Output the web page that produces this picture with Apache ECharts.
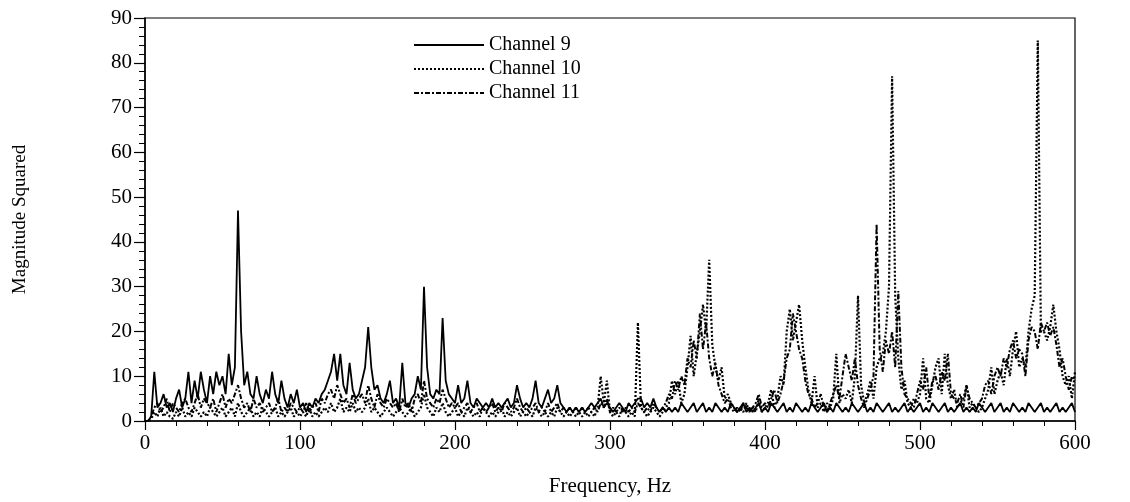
<!DOCTYPE html>
<html>
<head>
<meta charset="utf-8">
<script src="https://cdn.jsdelivr.net/npm/echarts@6/dist/echarts.min.js"></script>
<style>
  html, body { margin: 0; padding: 0; background: #fff; }
  #chart { width: 1130px; height: 502px; }
</style>
</head>
<body>
<div id="chart"></div>
<script>
// spectrum sampled every 2 Hz, 0..600 Hz
var FREQ_STEP = 2;
var seriesNames = ['Channel 9', 'Channel 10', 'Channel 11'];

var channel9 = [
  0, 0, 1, 11, 3, 4, 6, 3, 4, 2,
  5, 7, 3, 5, 11, 4, 9, 5, 11, 7,
  4, 10, 6, 11, 8, 10, 6, 15, 8, 12,
  47, 20, 8, 11, 6, 5, 10, 6, 4, 7,
  5, 11, 6, 4, 9, 5, 3, 6, 4, 7,
  3, 4, 2, 4, 3, 5, 4, 6, 7, 9,
  11, 15, 9, 15, 8, 6, 13, 7, 5, 6,
  9, 12, 21, 12, 7, 8, 5, 4, 6, 9,
  4, 5, 3, 13, 4, 3, 5, 6, 10, 7,
  30, 12, 6, 5, 7, 6, 23, 9, 6, 5,
  4, 8, 4, 5, 9, 4, 3, 5, 4, 3,
  4, 3, 5, 3, 4, 3, 4, 5, 3, 4,
  8, 5, 3, 4, 3, 5, 9, 4, 3, 5,
  7, 4, 5, 8, 4, 3, 2, 3, 2, 3,
  2, 3, 2, 3, 4, 3, 4, 5, 3, 4,
  3, 2, 3, 4, 3, 2, 4, 3, 4, 5,
  5, 3, 4, 3, 5, 3, 2, 3, 2, 3,
  2, 3, 2, 4, 3, 2, 3, 4, 2, 3,
  4, 2, 3, 2, 4, 3, 2, 3, 2, 4,
  3, 2, 3, 4, 2, 3, 2, 3, 4, 2,
  3, 2, 4, 3, 2, 3, 4, 2, 3, 2,
  4, 3, 2, 3, 2, 4, 3, 2, 3, 4,
  2, 3, 2, 4, 3, 2, 3, 2, 4, 3,
  2, 3, 4, 2, 3, 2, 4, 3, 2, 3,
  4, 2, 3, 2, 3, 4, 2, 3, 2, 3,
  4, 2, 3, 2, 4, 3, 2, 3, 4, 2,
  3, 2, 3, 4, 2, 3, 2, 3, 2, 4,
  3, 2, 3, 4, 2, 3, 4, 2, 3, 2,
  4, 3, 2, 3, 2, 4, 3, 2, 3, 4,
  2, 3, 2, 3, 4, 2, 3, 2, 3, 4,
  2
];

var channel10 = [
  0, 0, 0.5, 2, 1, 3, 1, 2, 1, 0.5,
  2, 1, 3, 1, 2, 1, 3, 2, 1, 2,
  1, 3, 2, 1, 2, 3, 1, 2, 3, 1,
  4, 2, 1, 2, 3, 1, 2, 1, 3, 2,
  1, 2, 3, 1, 2, 1, 2, 3, 1, 2,
  1, 2, 1, 3, 1, 2, 1, 2, 3, 2,
  4, 2, 3, 5, 2, 3, 2, 4, 2, 3,
  2, 3, 5, 2, 3, 2, 1, 2, 3, 2,
  1, 2, 3, 2, 1, 2, 3, 1, 2, 3,
  6, 3, 2, 1, 3, 2, 4, 2, 1, 2,
  3, 1, 2, 1, 3, 2, 1, 2, 1, 3,
  2, 1, 2, 1, 2, 3, 1, 2, 1, 2,
  3, 1, 2, 1, 2, 1, 3, 2, 1, 2,
  1, 2, 1, 3, 2, 1, 2, 1, 2, 1,
  2, 1, 2, 1, 2, 1, 3, 10, 4, 9,
  2, 1, 2, 1, 3, 2, 1, 2, 1, 22,
  3, 2, 1, 2, 3, 2, 1, 2, 3, 4,
  9, 6, 9, 4, 6, 12, 19, 10, 15, 20,
  26, 20, 36, 17, 12, 9, 12, 5, 6, 4,
  3, 2, 3, 2, 4, 2, 3, 2, 5, 2,
  3, 4, 7, 3, 5, 10, 8, 20, 25, 18,
  22, 26, 18, 12, 7, 4, 10, 3, 4, 2,
  4, 3, 5, 15, 4, 6, 5, 7, 4, 10,
  28, 8, 4, 6, 9, 5, 12, 14, 15, 20,
  30, 77, 28, 14, 7, 9, 4, 3, 5, 4,
  6, 14, 5, 4, 8, 12, 14, 6, 15, 8,
  5, 7, 3, 4, 5, 8, 3, 4, 3, 2,
  3, 5, 7, 12, 6, 9, 11, 8, 14, 10,
  16, 20, 12, 14, 12, 20, 25, 28, 85, 20,
  20, 18, 21, 26, 20, 16, 10, 8, 10, 5,
  11
];

var channel11 = [
  0, 0, 1, 3, 4, 2, 3, 5, 2, 4,
  3, 2, 4, 5, 3, 2, 4, 6, 3, 5,
  4, 3, 5, 2, 4, 6, 3, 5, 4, 6,
  8, 5, 3, 4, 2, 5, 3, 4, 2, 3,
  4, 2, 3, 5, 2, 3, 2, 4, 3, 2,
  3, 2, 4, 2, 3, 4, 2, 5, 4, 6,
  7, 5, 8, 6, 4, 5, 3, 6, 4, 5,
  6, 4, 8, 5, 3, 6, 4, 3, 5, 4,
  3, 4, 2, 5, 3, 4, 2, 5, 6, 4,
  9, 5, 4, 3, 5, 4, 7, 5, 3, 4,
  3, 4, 2, 3, 4, 2, 3, 4, 2, 3,
  2, 3, 4, 2, 3, 2, 4, 3, 2, 3,
  5, 3, 2, 3, 2, 3, 4, 2, 3, 2,
  4, 2, 3, 4, 2, 3, 2, 3, 2, 3,
  2, 3, 2, 3, 2, 3, 2, 4, 3, 5,
  2, 3, 2, 3, 2, 3, 2, 3, 2, 4,
  3, 2, 3, 2, 4, 3, 2, 3, 4, 6,
  5, 9, 7, 10, 8, 14, 12, 18, 14, 24,
  16, 22, 14, 10, 13, 8, 6, 4, 5, 3,
  2, 3, 2, 4, 3, 2, 3, 4, 6, 3,
  4, 3, 5, 7, 4, 6, 9, 14, 16, 24,
  20, 16, 14, 9, 6, 5, 3, 4, 6, 3,
  2, 4, 6, 8, 5, 10, 15, 12, 9, 14,
  8, 5, 3, 5, 7, 10, 44, 16, 11, 18,
  15, 20, 12, 29, 12, 6, 5, 4, 3, 6,
  9, 7, 12, 5, 9, 10, 7, 11, 9, 15,
  6, 5, 4, 6, 3, 8, 5, 4, 3, 4,
  5, 8, 9, 6, 10, 12, 10, 14, 12, 16,
  18, 14, 16, 15, 10, 18, 21, 20, 16, 22,
  20, 22, 19, 21, 17, 12, 14, 10, 7, 10,
  9
];

var xTicks = [0, 100, 200, 300, 400, 500, 600];
var yTicks = [0, 10, 20, 30, 40, 50, 60, 70, 80, 90];

function toPairs(vals) {
  return vals.map(function (v, i) { return [i * FREQ_STEP, v]; });
}

var serif = '"Liberation Serif", "DejaVu Serif", serif';
var chart = echarts.init(document.getElementById('chart'));

chart.setOption({
  animation: false,
  backgroundColor: '#fff',
  grid: {
    left: 145, right: 55, top: 18, bottom: 77,
    show: true, borderColor: '#000', borderWidth: 1.2
  },
  legend: {
    orient: 'vertical',
    left: 408, top: 30,
    itemWidth: 70, itemHeight: 14, itemGap: 4,
    itemStyle: { color: 'rgba(0,0,0,0)', borderWidth: 0, opacity: 0 },
    textStyle: { fontFamily: serif, fontSize: 20, color: '#000' },
    data: seriesNames
  },
  xAxis: {
    type: 'value',
    min: xTicks[0], max: xTicks[xTicks.length - 1], interval: 100,
    name: 'Frequency, Hz', nameLocation: 'middle', nameGap: 55,
    nameTextStyle: { fontFamily: serif, fontSize: 21, color: '#000' },
    axisLine: { onZero: false, lineStyle: { color: '#000', width: 1.5 } },
    axisTick: { length: 9, lineStyle: { color: '#000', width: 1.2 } },
    minorTick: { show: true, splitNumber: 5, length: 5, lineStyle: { color: '#000' } },
    axisLabel: { fontFamily: serif, fontSize: 21, color: '#000', margin: 12 },
    splitLine: { show: false }
  },
  yAxis: {
    type: 'value',
    min: yTicks[0], max: yTicks[yTicks.length - 1], interval: 10,
    name: 'Magnitude Squared', nameLocation: 'middle', nameGap: 115,
    nameTextStyle: { fontFamily: serif, fontSize: 19, color: '#000' },
    axisLine: { lineStyle: { color: '#000', width: 1.5 } },
    axisTick: { length: 11, lineStyle: { color: '#000', width: 1.2 } },
    minorTick: { show: true, splitNumber: 5, length: 6, lineStyle: { color: '#000' } },
    axisLabel: { fontFamily: serif, fontSize: 21, color: '#000', margin: 13 },
    splitLine: { show: false }
  },
  series: [
    {
      name: seriesNames[0], type: 'line', data: toPairs(channel9),
      symbol: 'none', z: 3,
      lineStyle: { color: '#000', width: 1.8, type: 'solid' },
      itemStyle: { color: '#000' }
    },
    {
      name: seriesNames[1], type: 'line', data: toPairs(channel10),
      symbol: 'none', z: 2,
      lineStyle: { color: '#000', width: 2.2, type: [2, 2] },
      itemStyle: { color: '#000' }
    },
    {
      name: seriesNames[2], type: 'line', data: toPairs(channel11),
      symbol: 'none', z: 2,
      lineStyle: { color: '#000', width: 2, type: [5, 2, 2, 2] },
      itemStyle: { color: '#000' }
    }
  ]
});
</script>
</body>
</html>
